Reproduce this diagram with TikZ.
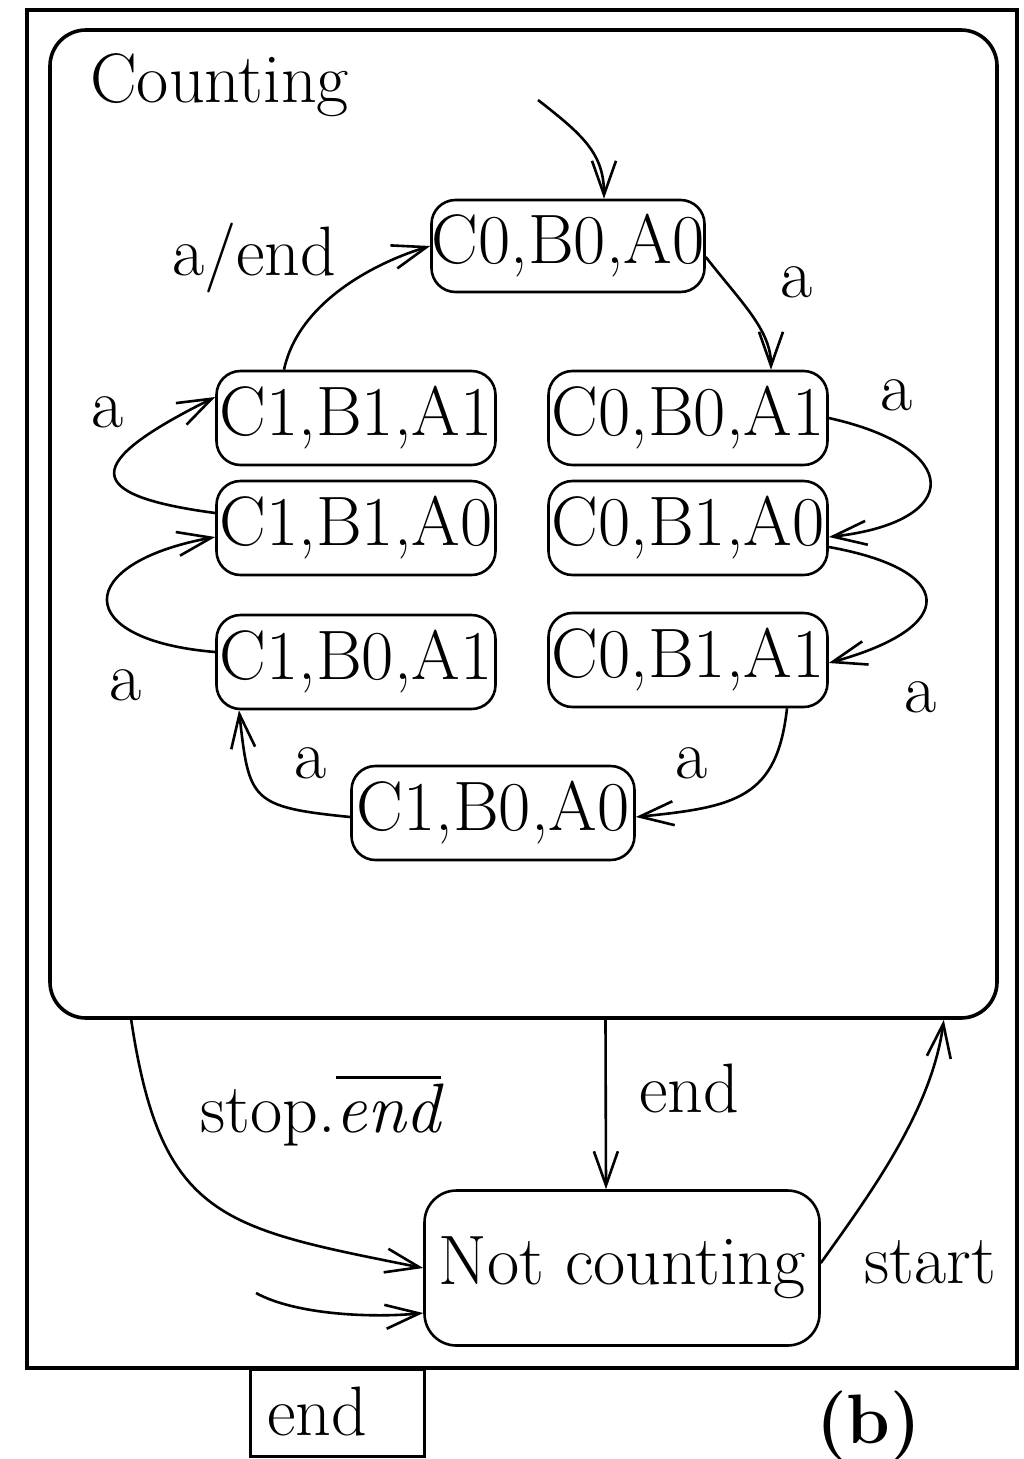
\documentclass[tikz,border=0pt]{standalone}
\usetikzlibrary{arrows.meta}
\begin{document}
\begin{tikzpicture}[x=1pt,y=1pt,
  every node/.style={font=\fontsize{70}{76}\selectfont, inner sep=0pt},
  st/.style={draw, line width=2.6pt, rounded corners=24pt, minimum width=279pt, minimum height=94pt},
  tr/.style={line width=2.6pt, -{Straight Barb[length=34pt,width=24pt]}},
  lbl/.style={anchor=base}]
\useasboundingbox (0,0) rectangle (1023,-1459);
\fill[white] (0,0) rectangle (1023,-1459);

% outer frame and the "Counting" superstate
\draw[line width=4.5pt] (27,-10) rectangle (1017,-1368);
\node[draw, line width=3.6pt, rounded corners=36pt, minimum width=947pt, minimum height=988pt] (counting) at (523.5,-524) {};
\node[anchor=base west] (lcount) at (90,-102) {Counting};

% states
\node[st, minimum width=273pt, minimum height=92pt] (s000) at (568,-246) {C0,B0,A0};
\node[st] (s111) at (356,-418) {C1,B1,A1};
\node[st] (s001) at (688,-418) {C0,B0,A1};
\node[st] (s110) at (356,-528) {C1,B1,A0};
\node[st] (s010) at (688,-528) {C0,B1,A0};
\node[st] (s101) at (356,-662) {C1,B0,A1};
\node[st] (s011) at (688,-660) {C0,B1,A1};
\node[st, minimum width=283pt] (s100) at (493,-813) {C1,B0,A0};
\node[st, minimum width=395pt, minimum height=155pt, rounded corners=32pt] (notc) at (622,-1268) {Not counting};

% output box
\node[draw, line width=2.6pt, minimum width=174pt, minimum height=87pt, anchor=north west, text depth=4pt] (endbox) at (249,-1368) {end\hspace*{40pt}};

% transitions inside Counting
\coordinate (i1) at (538,-100);
\draw[tr] (i1) .. controls +(45,-35) and +(0,45) .. ([xshift=36pt]s000.north);
\draw[tr] ([yshift=-11pt]s000.east) .. controls +(35,-45) and +(0,40) .. ([xshift=83pt]s001.north);
\draw[tr] ([xshift=-72pt]s111.north) .. controls +(15,70) and +(-50,-15) .. (s000.west);
\draw[tr] (s001.east) .. controls +(135,-30) and +(135,15) .. ([yshift=-9pt]s010.east);
\draw[tr] ([yshift=-19pt]s010.east) .. controls +(128,-23) and +(131,36) .. ([yshift=-3pt]s011.east);
\draw[tr] ([xshift=99pt]s011.south) .. controls +(-10,-90) and +(100,10) .. ([yshift=-4pt]s100.east);
\draw[tr] ([yshift=-4pt]s100.west) .. controls +(-100,10) and +(10,-90) .. ([xshift=-117pt]s101.south);
\draw[tr] ([yshift=10pt]s101.west) .. controls +(-145,12) and +(-142,-26) .. ([yshift=-9pt]s110.west);
\draw[tr] ([yshift=15pt]s110.west) .. controls +(-135,18) and +(-133,-66) .. ([yshift=21pt]s111.west);

% transitions between Counting and Not counting
\draw[tr] ([xshift=82pt]counting.south) -- ([xshift=-16pt]notc.north);
\draw[tr] ([xshift=83pt]counting.south west) .. controls +(30,-200) and +(-200,40) .. (notc.west);
\draw[tr] ([yshift=5pt]notc.east) .. controls +(50,70) and +(-12,-90) .. ([xshift=-55pt]counting.south east);
\coordinate (i2) at (256,-1293);
\draw[tr] (i2) .. controls +(40,-22) and +(-50,-5) .. ([yshift=-45pt]notc.west);

% labels
\node[anchor=base west] (l1) at (172,-275) {a/end};
\node[lbl] (l2) at (797,-297) {a};
\node[lbl] (l3) at (897,-410) {a};
\node[lbl] (l4) at (108,-427) {a};
\node[lbl] (l5) at (126,-700) {a};
\node[lbl] (l6) at (921,-712) {a};
\node[lbl] (l7) at (311,-778) {a};
\node[lbl] (l8) at (692,-778) {a};
\node[anchor=base west] (l9) at (639,-1112) {end};
\node[anchor=base west] (l10) at (200,-1132) {stop.\vbox{\hrule height 3pt\kern 4pt\hbox{\itshape end}}};
\node[anchor=base west] (l11) at (864,-1283) {start};
\node[anchor=base west] (l12) at (816,-1443) {\textbf{(b)}};
\end{tikzpicture}
\end{document}
